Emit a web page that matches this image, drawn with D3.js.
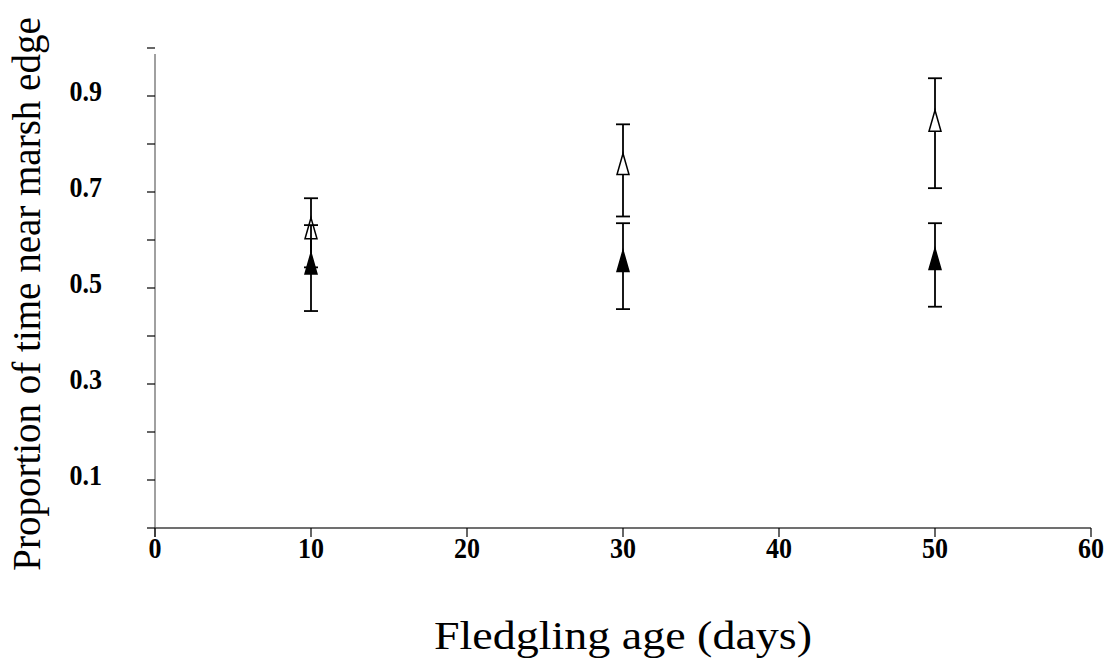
<!DOCTYPE html>
<html>
<head>
<meta charset="utf-8">
<script src="https://cdn.jsdelivr.net/npm/d3@7"></script>
<style>
  html, body { margin: 0; padding: 0; background: #fff; }
  svg { display: block; }
</style>
</head>
<body>
<svg id="chart" width="1111" height="661"></svg>
<script>
// ---- data ----
const ages = [10, 30, 50];
// open triangles
const openMean  = [0.617, 0.751, 0.841];
const openUpper = [0.687, 0.841, 0.937];
const openLower = [0.543, 0.649, 0.708];
// filled triangles
const filledMean  = [0.544, 0.549, 0.553];
const filledUpper = [0.631, 0.635, 0.635];
const filledLower = [0.452, 0.456, 0.461];

const xTicks = [0, 10, 20, 30, 40, 50, 60];
const yTicks = [0, 0.1, 0.2, 0.3, 0.4, 0.5, 0.6, 0.7, 0.8, 0.9, 1.0];
const yTickLabels = [0.1, 0.3, 0.5, 0.7, 0.9];

const xTitle = "Fledgling age (days)";
const yTitle = "Proportion of time near marsh edge";

// ---- layout ----
const svg = d3.select("#chart");
const x = d3.scaleLinear().domain([0, 60]).range([155, 1091]);
const y = d3.scaleLinear().domain([0, 1]).range([528, 48]);

const font = "'Liberation Serif', 'Times New Roman', serif";

// y axis line
svg.append("line")
  .attr("x1", x(0)).attr("x2", x(0))
  .attr("y1", y(1) + 6).attr("y2", y(0) + 9)
  .attr("stroke", "#808080").attr("stroke-width", 1.5);
// x axis line
svg.append("line")
  .attr("x1", x(0)).attr("x2", x(60))
  .attr("y1", y(0)).attr("y2", y(0))
  .attr("stroke", "#404040").attr("stroke-width", 1.3);

// y ticks
svg.append("g").selectAll("line").data(yTicks).join("line")
  .attr("x1", x(0) - 8).attr("x2", x(0))
  .attr("y1", d => y(d)).attr("y2", d => y(d))
  .attr("stroke", "#000").attr("stroke-width", 1.2);
// x ticks
svg.append("g").selectAll("line").data(xTicks).join("line")
  .attr("x1", d => x(d)).attr("x2", d => x(d))
  .attr("y1", y(0)).attr("y2", y(0) + 9)
  .attr("stroke", "#000").attr("stroke-width", 1.2);

// y tick labels
svg.append("g").selectAll("text").data(yTickLabels).join("text")
  .attr("transform", d => `translate(102, ${y(d) + 5}) scale(1, 1.1)`)
  .attr("text-anchor", "end")
  .attr("font-family", font).attr("font-weight", "bold").attr("font-size", 26)
  .text(d => d3.format(".1f")(d));
// x tick labels
svg.append("g").selectAll("text").data(xTicks).join("text")
  .attr("transform", d => `translate(${x(d)}, 558) scale(1, 1.1)`)
  .attr("text-anchor", "middle")
  .attr("font-family", font).attr("font-weight", "bold").attr("font-size", 26)
  .text(d => d);

// titles
svg.append("text")
  .attr("transform", `translate(${(x(0) + x(60)) / 2}, 649) scale(1.15, 1)`)
  .attr("text-anchor", "middle")
  .attr("font-family", font).attr("font-size", 40)
  .text(xTitle);
svg.append("text")
  .attr("transform", `translate(40, 294) rotate(-90)`)
  .attr("text-anchor", "middle")
  .attr("font-family", font).attr("font-size", 39)
  .text(yTitle);

// ---- series ----
const tri = "M0,-14L6,7L-6,7Z";
function drawSeries(means, uppers, lowers) {
  const g = svg.append("g");
  const rows = ages.map((a, i) => ({a, m: means[i], u: uppers[i], l: lowers[i]}));
  g.selectAll(".eb").data(rows).join("line")
    .attr("x1", d => x(d.a)).attr("x2", d => x(d.a))
    .attr("y1", d => y(d.u)).attr("y2", d => y(d.l))
    .attr("stroke", "#000").attr("stroke-width", 1.8);
  g.selectAll(".cu").data(rows).join("line")
    .attr("x1", d => x(d.a) - 7).attr("x2", d => x(d.a) + 7)
    .attr("y1", d => y(d.u)).attr("y2", d => y(d.u))
    .attr("stroke", "#000").attr("stroke-width", 1.8);
  g.selectAll(".cl").data(rows).join("line")
    .attr("x1", d => x(d.a) - 7).attr("x2", d => x(d.a) + 7)
    .attr("y1", d => y(d.l)).attr("y2", d => y(d.l))
    .attr("stroke", "#000").attr("stroke-width", 1.8);
  return {g, rows};
}
function drawMarkers(s, fill) {
  s.g.selectAll("path").data(s.rows).join("path")
    .attr("d", tri)
    .attr("transform", d => `translate(${x(d.a)},${y(d.m)})`)
    .attr("fill", fill).attr("stroke", "#000").attr("stroke-width", 1.5)
    .attr("stroke-linejoin", "miter");
}
const sOpen = drawSeries(openMean, openUpper, openLower);
const sFilled = drawSeries(filledMean, filledUpper, filledLower);
drawMarkers(sOpen, "#fff");
drawMarkers(sFilled, "#000");
</script>
</body>
</html>
